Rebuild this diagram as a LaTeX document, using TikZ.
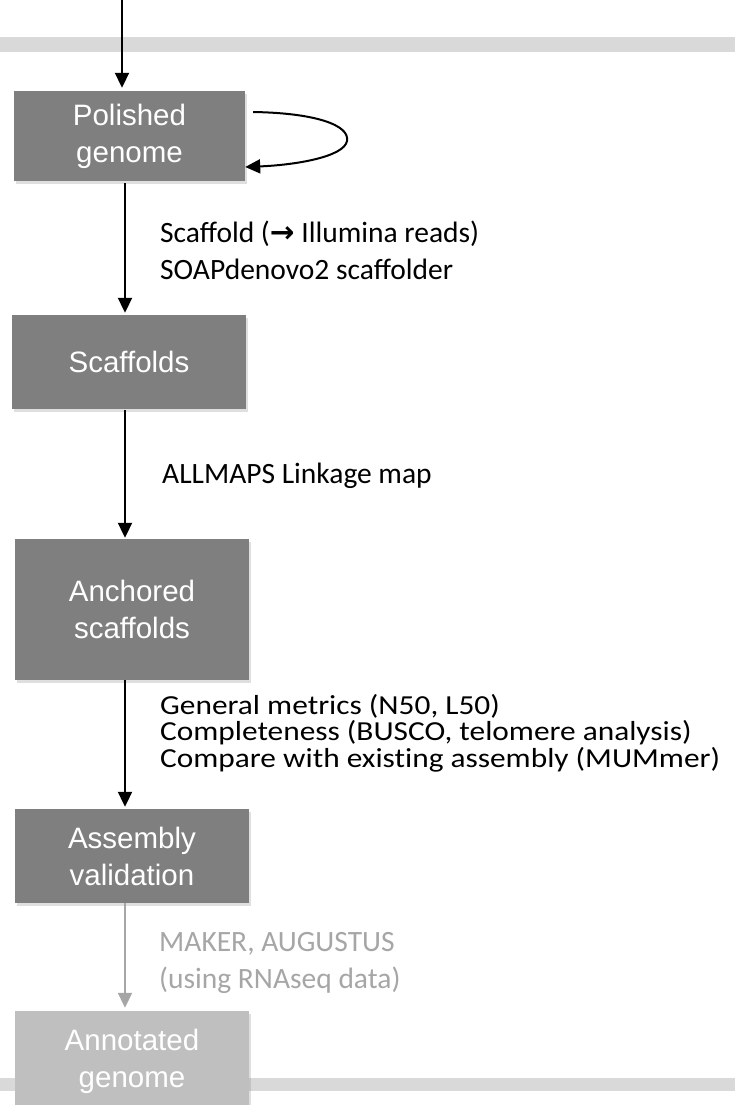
\documentclass[tikz,border=0pt]{standalone}
\usepackage{fontspec}
\setmainfont{Carlito}
\newfontfamily\widefont[FakeStretch=1.14,Ligatures=NoCommon]{Carlito}
\newfontfamily\arialfont{Liberation Sans}
\newfontfamily\symfont{DejaVu Sans}
\usetikzlibrary{arrows.meta,shadows}
\definecolor{boxgray}{HTML}{7F7F7F}
\definecolor{lightbox}{HTML}{BFBFBF}
\definecolor{bandgray}{HTML}{D9D9D9}
\definecolor{labgray}{HTML}{A6A6A6}
\begin{document}
\begin{tikzpicture}[x=1pt,y=-1pt,
  box/.style={fill=boxgray, text=white, font=\arialfont\fontsize{29.5}{37}\selectfont,
    align=center, inner sep=0pt,
    drop shadow={shadow xshift=2pt, shadow yshift=-3pt, opacity=0.25}},
  arr/.style={line width=2pt, -{Triangle[length=15pt,width=14pt]}},
  lab/.style={anchor=base west, align=left, inner sep=0pt, font=\fontsize{29.5}{37}\selectfont},
  band/.style={fill=bandgray}]
\useasboundingbox (0,0) rectangle (735,1105);
\clip (0,0) rectangle (735,1105);
% bands
\fill[band] (0,37) rectangle (735,52);
\fill[band] (0,1078) rectangle (735,1091);
% boxes
\node[box, minimum width=231pt, minimum height=90pt] (pol) at (129.5,136) {Polished\\genome};
\node[box, minimum width=234pt, minimum height=94pt] (scaf) at (129,362) {Scaffolds};
\node[box, minimum width=234pt, minimum height=141pt] (anch) at (132,609.5) {Anchored\\scaffolds};
\node[box, minimum width=234pt, minimum height=94pt] (asm) at (132,856) {Assembly\\validation};
\node[box, fill=lightbox, minimum width=234pt, minimum height=100pt] (ann) at (132,1061) {Annotated\\genome};
% connectors
\coordinate (top) at (122,0);
\coordinate (ax) at (125,0);
\draw[arr, shorten >=3pt] (top) -- (top |- pol.north);
\draw[arr] ([shift={(8,-24)}]pol.east) .. controls (315,113) and (350,125) .. (347,141)
   .. controls (344,157) and (295,165) .. ([yshift=-31pt]pol.east);
\draw[arr, shorten <=2pt, shorten >=2pt] (pol.south -| ax) -- (scaf.north -| ax);
\draw[arr, shorten <=1pt, shorten >=1pt] (scaf.south -| ax) -- (anch.north -| ax);
\draw[arr, shorten >=2pt] (anch.south -| ax) -- (asm.north -| ax);
\draw[arr, labgray, shorten >=3pt] (asm.south -| ax) -- (ann.north -| ax);
% labels (anchor = baseline of last line)
\node[lab] (l1) at (160,279) {Scaffold ({\symfont\bfseries →} Illumina reads)\\SOAPdenovo2 scaffolder};
\node[lab] (l2) at (162,483) {ALLMAPS Linkage map};
\node[lab, font=\widefont\fontsize{27.5}{26.5}\selectfont] (l3) at (160,767) {General metrics (N50, L50)\\Completeness (BUSCO, telomere analysis)\\Compare with existing assembly (MUMmer)};
\node[lab, text=labgray] (l4) at (159,988) {MAKER, AUGUSTUS\\(using RNAseq data)};
\end{tikzpicture}
\end{document}
